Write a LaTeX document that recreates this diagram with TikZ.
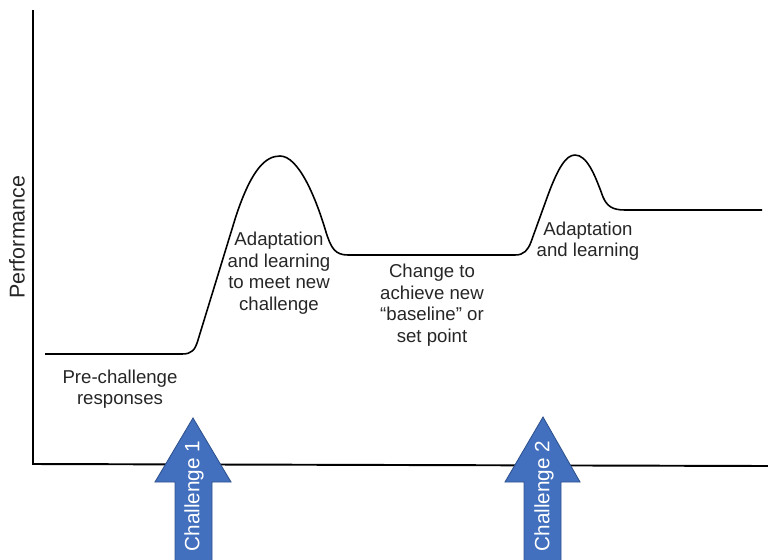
\documentclass[tikz,border=0pt]{standalone}
\usepackage{fontspec}
\setmainfont{Liberation Sans}
\usetikzlibrary{positioning}
\definecolor{chblue}{RGB}{66,112,190}
\definecolor{chedge}{RGB}{47,82,143}

\begin{document}
\begin{tikzpicture}[x=0.02cm,y=-0.02cm,
    lbl/.style={align=center,text=black!85,font=\fontsize{10.6}{12.3}\selectfont},
    chal/.style={fill=chblue,draw=chedge,line width=0.5pt}]
    \useasboundingbox (0,0) rectangle (768,559);
    % axes
    \draw[line width=1.1pt](33,10)--(33,464)--(768,466);
    \node[lbl,rotate=90,font=\fontsize{12.2}{14}\selectfont](perf) at (17,237){Performance};
    % performance curve
    \draw[line width=0.9pt](45,354)--(182,354)
        .. controls (192,354) and (195,350) .. (198,340)--(236,216)
        .. controls (252,168) and (266,156) .. (280,156)
        .. controls (298,156) and (315,195) .. (326,232)
        .. controls (331,248) and (335,255) .. (348,255)--(515,255)
        .. controls (524,255) and (528,250) .. (531,242)--(548,195)
        .. controls (558,168) and (566,155) .. (575,155)
        .. controls (587,155) and (595,175) .. (603,197)
        .. controls (607,206) and (612,210) .. (625,210)--(762,210);
    \node[lbl](pre) at (120,389){Pre-challenge\\responses};
    \node[lbl](adapt1) at (279,273){Adaptation\\and learning\\to meet new\\challenge};
    \node[lbl](base) at (432,305){Change to\\achieve new\\“baseline” or\\set point};
    \node[lbl](adapt2) at (588,241){Adaptation\\and learning};
    % challenge arrows
    \draw[chal](175,565)--(175,482)--(155,482)--(193,418)--(231,482)--(212,482)--(212,565)--cycle;
    \node[lbl,rotate=90,text=white,font=\fontsize{11.8}{14}\selectfont](ch1) at (194,496){Challenge 1};
    \draw[chal](524,565)--(524,482)--(505,482)--(543,417)--(580,482)--(561,482)--(561,565)--cycle;
    \node[lbl,rotate=90,text=white,font=\fontsize{11.8}{14}\selectfont](ch2) at (544,496){Challenge 2};
\end{tikzpicture}
\end{document}
